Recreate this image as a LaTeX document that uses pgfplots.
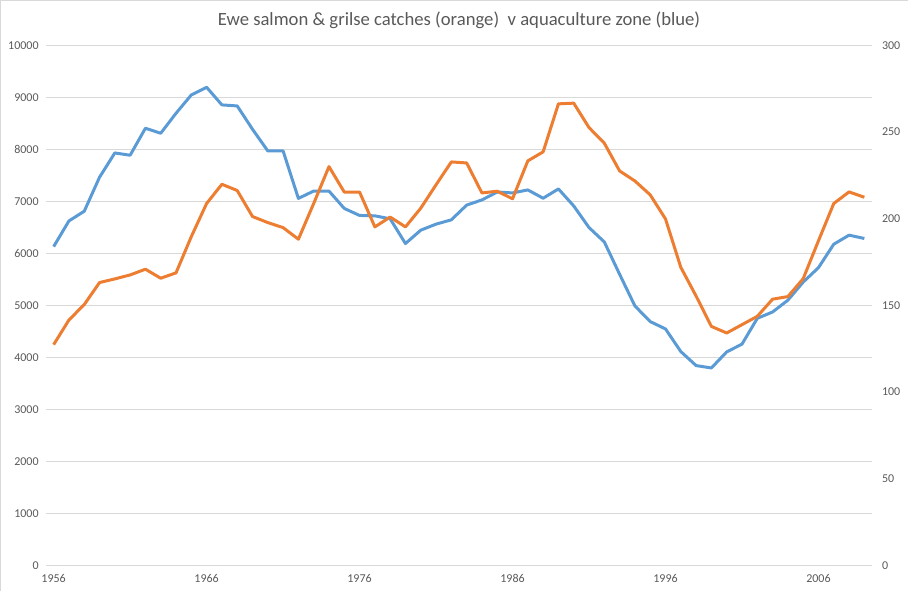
\documentclass[border=0pt]{standalone}
\usepackage{fontspec}
\setmainfont{Carlito}
\usepackage{pgfplots}
\pgfplotsset{compat=1.18}
\definecolor{xlblue}{HTML}{5B9BD5}
\definecolor{xlorange}{HTML}{ED7D31}
\definecolor{xlgrid}{HTML}{D9D9D9}
\definecolor{xltext}{HTML}{595959}
\begin{document}
\begin{tikzpicture}[x=1pt,y=1pt]
\useasboundingbox (0,0) rectangle (681,443.25);
\draw[xlgrid,line width=0.75pt] (0.4,0) -- (0.4,442.85) -- (681,442.85);
\begin{axis}[
  at={(34.5pt,19.3pt)}, anchor=south west,
  scale only axis, width=619.5pt, height=390pt,
  xmin=1955.5, xmax=2009.5, ymin=0, ymax=10000,
  axis y line*=left, axis x line*=bottom,
  axis line style={draw=none},
  scaled ticks=false,
  xtick={1956,1966,1976,1986,1996,2006},
  ytick={0,1000,...,10000},
  major tick length=0pt,
  ymajorgrids, grid style={xlgrid, line width=0.75pt},
  tick label style={font=\fontsize{9}{10}\selectfont, text=xltext},
  /pgf/number format/assume math mode=true,
  /pgf/number format/1000 sep={},
  xticklabel style={yshift=-3pt},
  yticklabel style={xshift=-2pt},
  title={Ewe salmon \& grilse catches (orange)\ \ v aquaculture zone (blue)},
  title style={font=\fontsize{14}{16}\selectfont, text=xltext, yshift=3pt},
  clip=false,
]
\addplot[xlblue, line width=2.25pt, line join=round] coordinates {
(1956,6128) (1957,6622) (1958,6808) (1959,7462) (1960,7929) (1961,7885)
(1962,8404) (1963,8308) (1964,8692) (1965,9045) (1966,9192) (1967,8853)
(1968,8833) (1969,8385) (1970,7968) (1971,7968) (1972,7055) (1973,7196)
(1974,7196) (1975,6862) (1976,6727) (1977,6720) (1978,6662) (1979,6187)
(1980,6444) (1981,6560) (1982,6643) (1983,6926) (1984,7026) (1985,7178)
(1986,7160) (1987,7218) (1988,7058) (1989,7237) (1990,6910) (1991,6494)
(1992,6218) (1993,5596) (1994,4987) (1995,4686) (1996,4545) (1997,4110)
(1998,3840) (1999,3794) (2000,4103) (2001,4252) (2002,4748) (2003,4871)
(2004,5097) (2005,5445) (2006,5723) (2007,6174) (2008,6348) (2009,6284)
};
\end{axis}
\begin{axis}[
  at={(34.5pt,19.3pt)}, anchor=south west,
  scale only axis, width=619.5pt, height=390pt,
  xmin=1955.5, xmax=2009.5, ymin=0, ymax=300,
  axis y line*=right, axis x line=none,
  axis line style={draw=none},
  scaled ticks=false,
  ytick={0,50,...,300},
  major tick length=0pt,
  tick label style={font=\fontsize{9}{10}\selectfont, text=xltext},
  /pgf/number format/assume math mode=true,
  yticklabel style={xshift=4pt},
  clip=false,
]
\addplot[xlorange, line width=2.25pt, line join=round] coordinates {
(1956,127.3) (1957,141.5) (1958,150.4) (1959,163.1) (1960,165.2) (1961,167.5)
(1962,170.8) (1963,165.6) (1964,168.7) (1965,189.6) (1966,208.7) (1967,219.8)
(1968,216.2) (1969,201.2) (1970,197.7) (1971,194.8) (1972,188.1) (1973,208.7)
(1974,230.0) (1975,215.3) (1976,215.3) (1977,195.2) (1978,200.9) (1979,195.2)
(1980,206.0) (1981,219.5) (1982,232.7) (1983,232.1) (1984,214.8) (1985,215.8)
(1986,211.4) (1987,233.3) (1988,238.5) (1989,266.2) (1990,266.6) (1991,252.5)
(1992,243.5) (1993,227.5) (1994,221.7) (1995,213.7) (1996,199.8) (1997,171.9)
(1998,155.3) (1999,137.8) (2000,134.0) (2001,138.8) (2002,143.6) (2003,153.5)
(2004,155.0) (2005,165.3) (2006,187.2) (2007,208.7) (2008,215.4) (2009,212.3)
};
\end{axis}
\end{tikzpicture}
\end{document}
